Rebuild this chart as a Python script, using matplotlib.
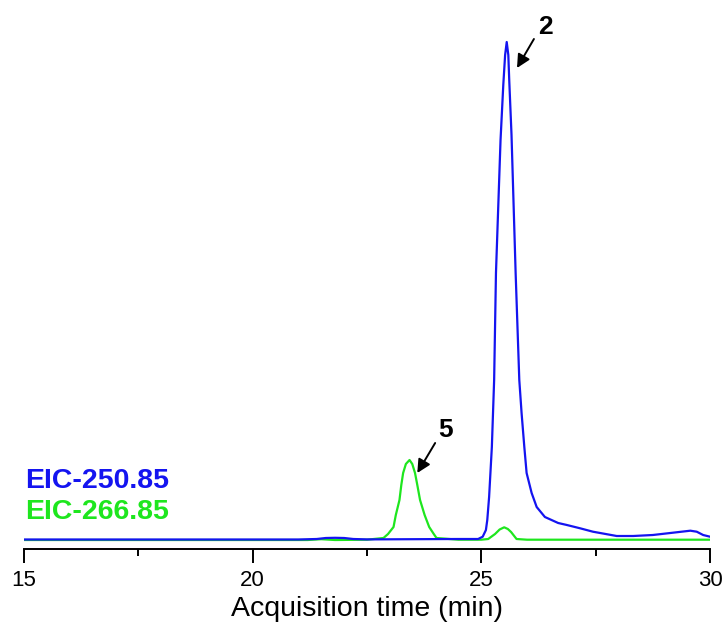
import matplotlib.pyplot as plt

plt.rcParams['font.family'] = ['Liberation Sans', 'DejaVu Sans']

# EIC 250.85 trace (time in min, intensity in arbitrary units)
t_250 = [15.0, 18.0, 21.0, 21.4, 21.6, 21.8, 22.0, 22.2, 22.5, 23.5, 24.5, 24.93,
         25.03, 25.10, 25.13, 25.17, 25.23, 25.28, 25.32, 25.42, 25.48, 25.52,
         25.555, 25.59, 25.61, 25.66, 25.75, 25.83, 25.88, 25.94, 25.99, 26.10,
         26.21, 26.39, 26.68, 26.87, 27.16, 27.44, 27.96, 28.32, 28.75, 29.19,
         29.57, 29.71, 29.85, 30.0]
i_250 = [0.5, 0.5, 0.5, 1.0, 2.0, 2.2, 2.0, 1.0, 0.6, 0.8, 1.0, 1.0,
         3.3, 10, 20, 43, 93, 160, 267, 400, 455, 485,
         498, 485, 460, 405, 267, 160, 127, 93, 67, 47,
         33, 23, 17, 15, 11.7, 8.3, 4, 4, 5, 7.3,
         9.3, 8.3, 5, 3.3]

# EIC 266.85 trace
t_266 = [15.0, 20.0, 21.2, 21.5, 21.8, 22.5, 22.86, 22.96, 23.08, 23.13, 23.21,
         23.25, 23.29, 23.35, 23.43, 23.49, 23.55, 23.60, 23.66, 23.76, 23.86,
         23.96, 24.02, 24.5, 25.0, 25.15, 25.30, 25.40, 25.50, 25.58, 25.65,
         25.77, 26.0, 28.0, 30.0]
i_266 = [0, 0, 0, 0.8, 0, 0.3, 2, 6, 13, 25, 40,
         55, 67, 76, 80, 76, 67, 55, 40, 25, 13,
         6, 2, 0.3, 0.3, 1, 6, 10.5, 12.7, 11, 8,
         1, 0.3, 0.3, 0.3]

blue = '#1414f0'
green = '#1ee61e'

fig = plt.figure(figsize=(7.25, 6.31), dpi=100)
ax = fig.add_axes([24 / 725, 82 / 631, 686 / 725, 529 / 631])

ax.plot(t_266, i_266, color=green, lw=1.6)
ax.plot(t_250, i_250, color=blue, lw=1.6)

ax.set_xlim(15, 30)
ax.set_ylim(-9, 520)

for side in ['left', 'right', 'top']:
    ax.spines[side].set_visible(False)
ax.spines['bottom'].set_linewidth(1.4)
ax.set_yticks([])
ax.set_xticks([15, 20, 25, 30])
ax.set_xticks([17.5, 22.5, 27.5], minor=True)
ax.tick_params(axis='x', which='major', length=10, width=1.4, labelsize=16, pad=5)
ax.tick_params(axis='x', which='minor', length=5, width=1.4)
ax.set_xlabel('Acquisition time (min)', fontsize=20.5, labelpad=4)

ax.text(15.03, 59, 'EIC-250.85', color=blue, fontsize=20.5, fontweight='bold', va='center')
ax.text(15.03, 28, 'EIC-266.85', color=green, fontsize=20.5, fontweight='bold', va='center')

# peak labels with arrows
arrow = dict(arrowstyle='-|>', color='black', lw=1.4, mutation_scale=20, shrinkA=0, shrinkB=0)
ax.text(26.40, 513, '2', fontsize=19, fontweight='bold', ha='center', va='center')
ax.annotate('', xy=(25.78, 472), xytext=(26.15, 501), arrowprops=arrow)
ax.text(24.21, 110, '5', fontsize=19, fontweight='bold', ha='center', va='center')
ax.annotate('', xy=(23.60, 67), xytext=(23.99, 97), arrowprops=arrow)

fig.savefig('out.png', dpi=100)
